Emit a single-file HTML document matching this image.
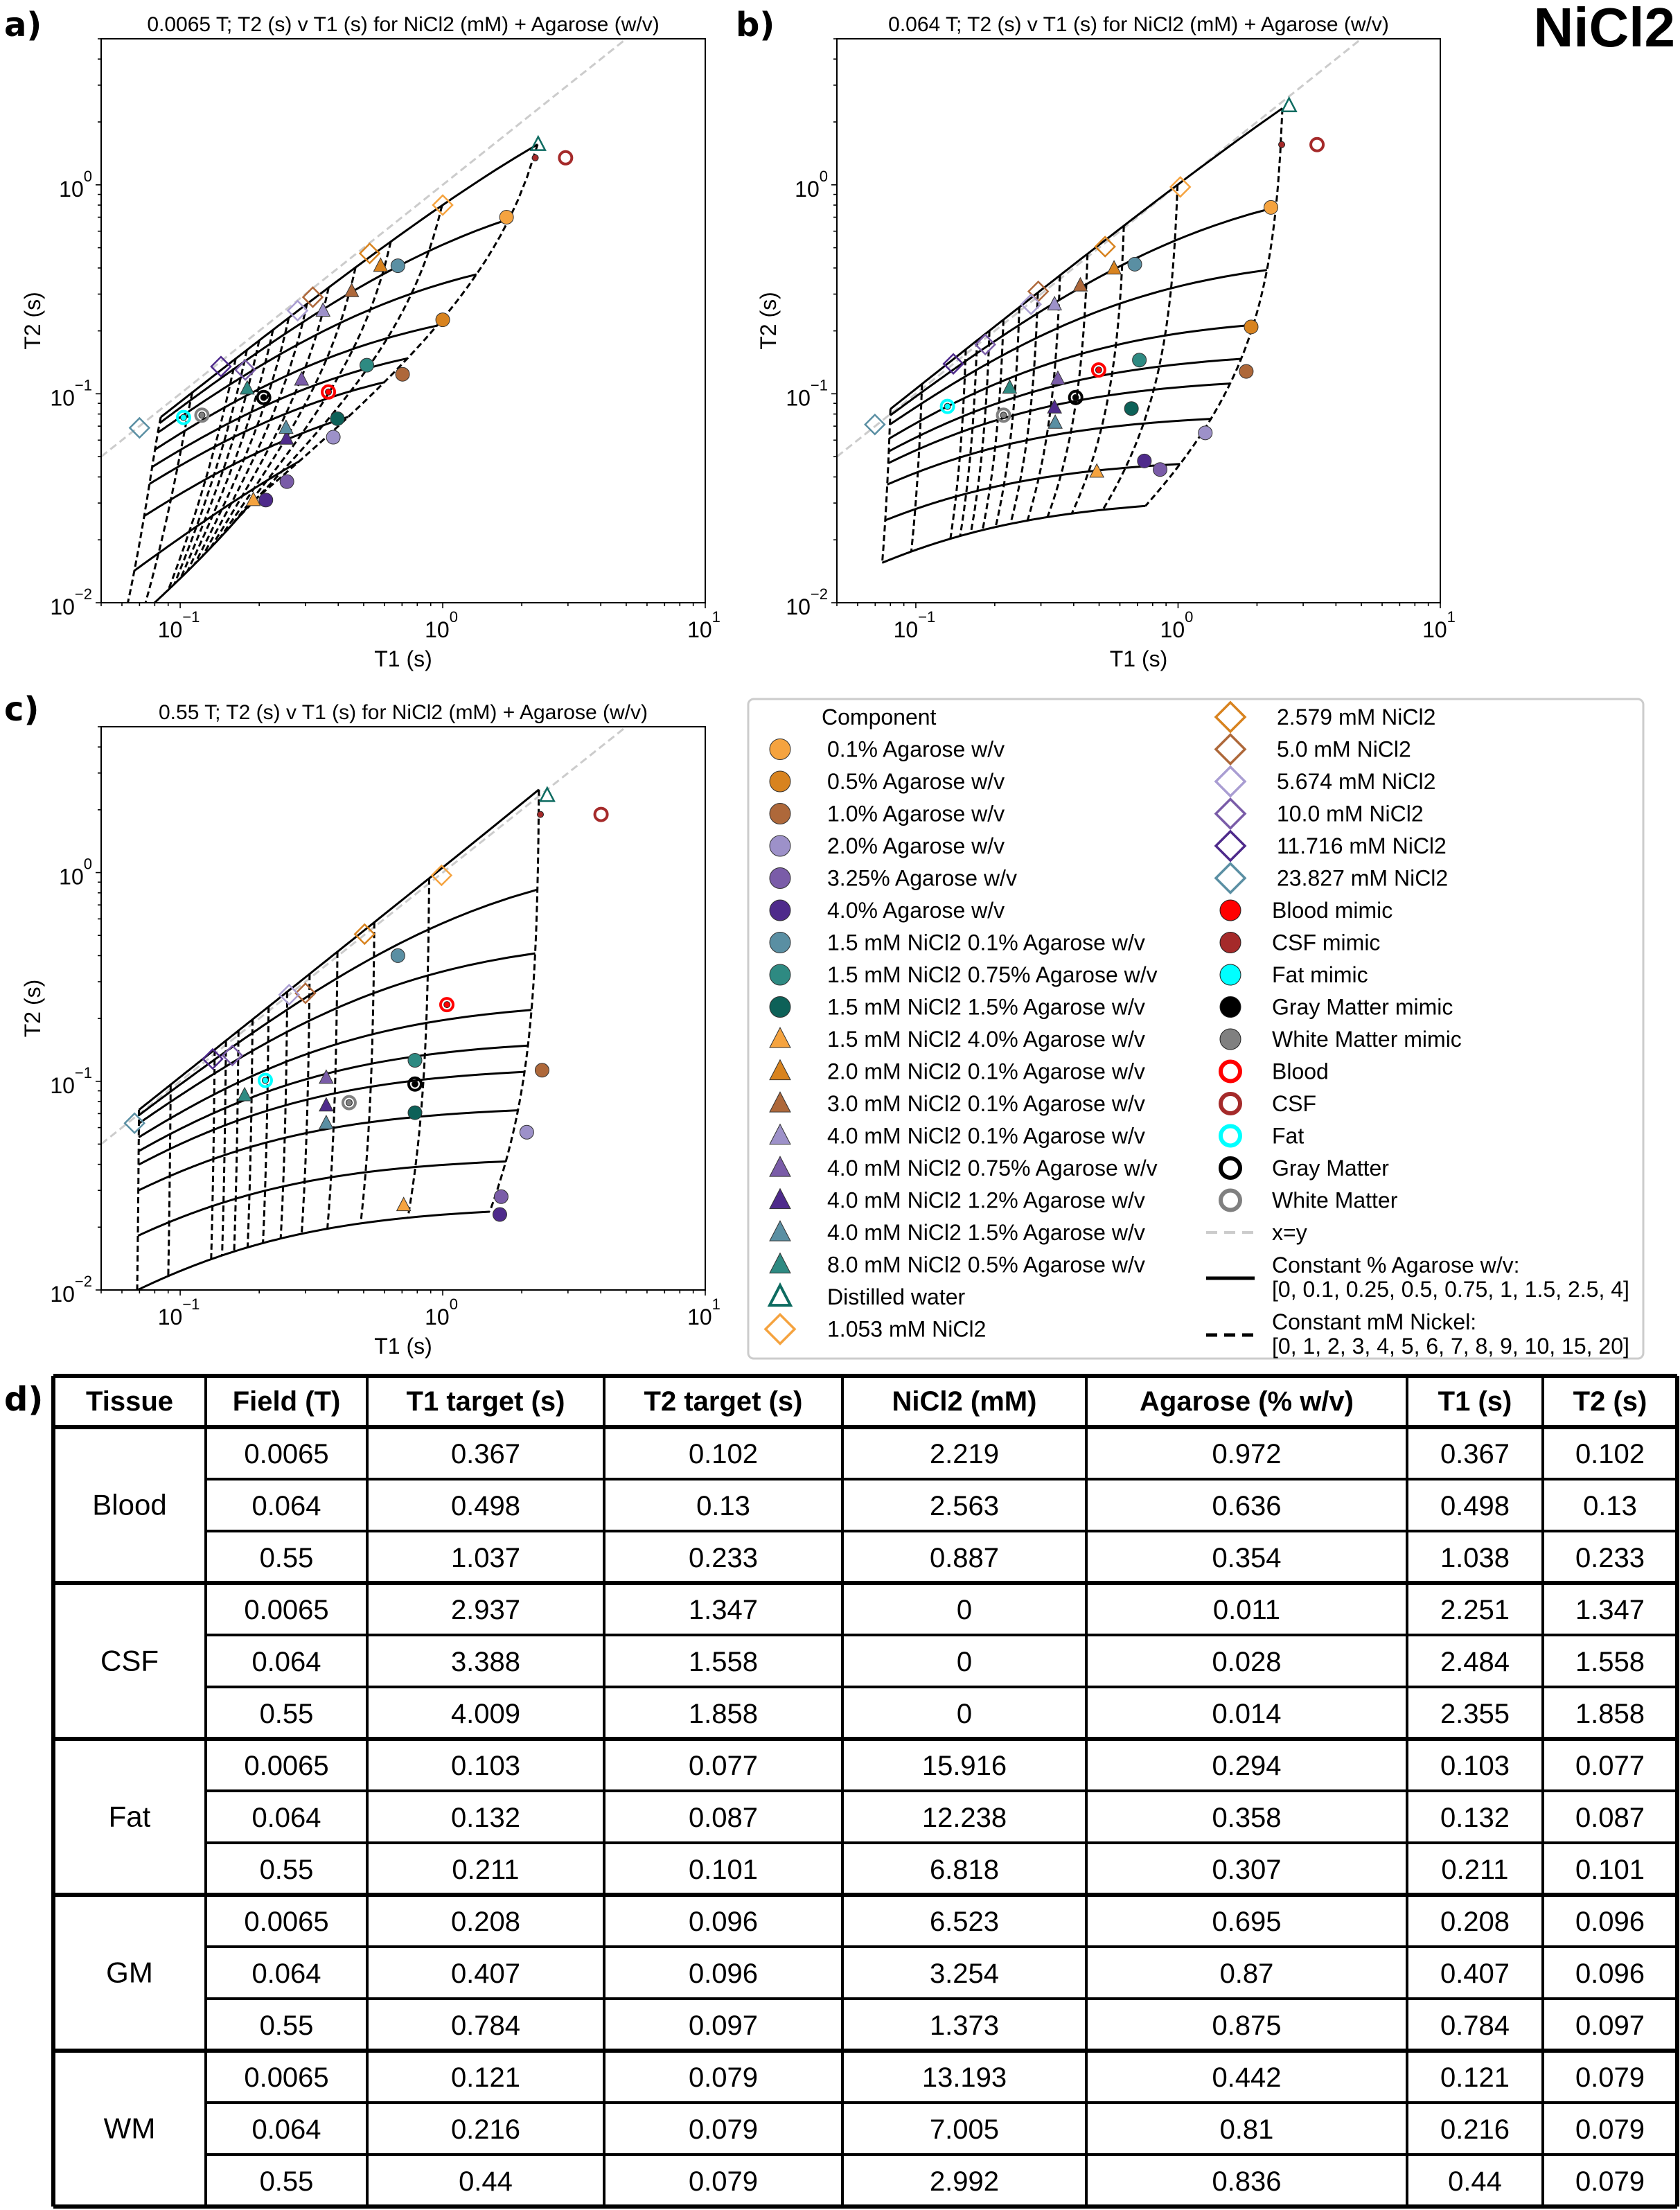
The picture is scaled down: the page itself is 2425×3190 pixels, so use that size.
<!DOCTYPE html>
<html><head><meta charset="utf-8"><title>NiCl2 T2 v T1</title>
<style>
html,body{margin:0;padding:0;background:#fff;}
svg{display:block;font-family:"Liberation Sans",Arial,sans-serif;}
</style></head>
<body>
<svg id="root" xmlns="http://www.w3.org/2000/svg" width="2425" height="3190" viewBox="0 0 2425 3190">
<rect x="0" y="0" width="2425" height="3190" fill="#fff"/>
<text x="2418" y="67" text-anchor="end" font-size="80" font-weight="bold">NiCl2</text>
<text x="6" y="52" font-family="DejaVu Sans, sans-serif" font-size="48" font-weight="bold">a)</text>
<text x="1062" y="52" font-family="DejaVu Sans, sans-serif" font-size="48" font-weight="bold">b)</text>
<text x="6" y="1040" font-family="DejaVu Sans, sans-serif" font-size="48" font-weight="bold">c)</text>
<text x="6" y="2036" font-family="DejaVu Sans, sans-serif" font-size="48" font-weight="bold">d)</text>
<g id="panels"></g>
<g id="legend"></g>
<g id="table"></g>
</svg>
<script>
// ---------- chart data ----------
const panelTitles = ["0.0065 T; T2 (s) v T1 (s) for NiCl2 (mM) + Agarose (w/v)",
                     "0.064 T; T2 (s) v T1 (s) for NiCl2 (mM) + Agarose (w/v)",
                     "0.55 T; T2 (s) v T1 (s) for NiCl2 (mM) + Agarose (w/v)"];
const agaroseLevels = [0, 0.1, 0.25, 0.5, 0.75, 1, 1.5, 2.5, 4];
const nickelLevels = [0, 1, 2, 3, 4, 5, 6, 7, 8, 9, 10, 15, 20];
// relaxation model coefficients [R1w, r1Ni, r1Ag, R2w, r2Ni, r2Ag, q2Ag, kNiAg]
const modelA = [0.435, 0.571, 1.236, 0.64, 0.615, 8.17, 0, 0.295];
const modelB = [0.40, 0.605, 0.233, 0.43, 0.57, 8.5, 0, 0.058];
const modelC = [0.43, 0.696, 0.058, 0.40, 0.665, 8.0, 0.61, 0.14];
const xTickValues = [0.1, 1, 10];
const xTickExps = ["\u22121", "0", "1"];
const yTickValues = [0.01, 0.1, 1];
const yTickExps = ["\u22122", "\u22121", "0"];
const componentKeys = ["ag01","ag05","ag10","ag20","ag325","ag40","n15a01","n15a075","n15a15","t15a40","t20a01","t30a01","t40a01","t40a075","t40a12","t40a15","t80a05","water","d1053","d2579","d50","d5674","d100","d11716","d23827","mBlood","mCSF","mFat","mGM","mWM","Blood","CSF","Fat","GM","WM"];
const t1A = [1.75,1.0,0.703,0.383,0.255,0.212,0.675,0.514,0.397,0.19,0.58,0.45,0.35,0.29,0.254,0.253,0.18,2.31,1.0,0.527,0.32,0.28,0.177,0.143,0.070,0.367,2.251,0.103,0.208,0.121,0.367,2.937,0.103,0.208,0.121];
const t2A = [0.70,0.226,0.124,0.062,0.038,0.031,0.41,0.137,0.076,0.031,0.41,0.31,0.25,0.117,0.061,0.0687,0.106,1.56,0.80,0.47,0.29,0.25,0.13,0.135,0.0687,0.102,1.347,0.077,0.096,0.079,0.102,1.347,0.077,0.096,0.079];
const t1B = [2.26,1.90,1.82,1.27,0.854,0.744,0.684,0.712,0.664,0.49,0.57,0.424,0.338,0.348,0.338,0.34,0.228,2.65,1.02,0.527,0.293,0.275,0.184,0.139,0.0698,0.498,2.484,0.132,0.407,0.216,0.498,3.388,0.132,0.407,0.216];
const t2B = [0.78,0.209,0.128,0.065,0.0434,0.0477,0.417,0.145,0.085,0.0424,0.398,0.33,0.268,0.118,0.086,0.0727,0.107,2.39,0.977,0.506,0.309,0.268,0.172,0.139,0.0713,0.13,1.558,0.087,0.096,0.079,0.13,1.558,0.087,0.096,0.079];
const t1C = [null,null,2.39,2.09,1.67,1.65,0.675,0.784,0.784,0.71,null,null,null,0.36,0.36,0.36,0.176,2.5,0.99,0.504,0.30,0.26,0.158,0.133,0.067,1.038,2.355,0.211,0.784,0.44,1.037,4.009,0.211,0.784,0.44];
const t2C = [null,null,0.113,0.057,0.028,0.023,0.40,0.126,0.0707,0.0255,null,null,null,0.104,0.0766,0.063,0.0857,2.34,0.97,0.507,0.264,0.26,0.133,0.128,0.063,0.233,1.90,0.101,0.097,0.079,0.233,1.90,0.101,0.097,0.079];

// ---------- styles (not data) ----------
const STY = {
 ag01:{s:"c",c:"#f5a33f",l:"0.1% Agarose w/v"}, ag05:{s:"c",c:"#d8831f",l:"0.5% Agarose w/v"},
 ag10:{s:"c",c:"#ae683a",l:"1.0% Agarose w/v"}, ag20:{s:"c",c:"#9d91c9",l:"2.0% Agarose w/v"},
 ag325:{s:"c",c:"#7a5ca8",l:"3.25% Agarose w/v"}, ag40:{s:"c",c:"#4e2a8b",l:"4.0% Agarose w/v"},
 n15a01:{s:"c",c:"#5a8fa3",l:"1.5 mM NiCl2 0.1% Agarose w/v"}, n15a075:{s:"c",c:"#2e8a82",l:"1.5 mM NiCl2 0.75% Agarose w/v"},
 n15a15:{s:"c",c:"#0d6158",l:"1.5 mM NiCl2 1.5% Agarose w/v"},
 t15a40:{s:"t",c:"#f5a33f",l:"1.5 mM NiCl2 4.0% Agarose w/v"}, t20a01:{s:"t",c:"#d8831f",l:"2.0 mM NiCl2 0.1% Agarose w/v"},
 t30a01:{s:"t",c:"#ae683a",l:"3.0 mM NiCl2 0.1% Agarose w/v"}, t40a01:{s:"t",c:"#9d91c9",l:"4.0 mM NiCl2 0.1% Agarose w/v"},
 t40a075:{s:"t",c:"#7a5ca8",l:"4.0 mM NiCl2 0.75% Agarose w/v"}, t40a12:{s:"t",c:"#4e2a8b",l:"4.0 mM NiCl2 1.2% Agarose w/v"},
 t40a15:{s:"t",c:"#5a8fa3",l:"4.0 mM NiCl2 1.5% Agarose w/v"}, t80a05:{s:"t",c:"#2e8a82",l:"8.0 mM NiCl2 0.5% Agarose w/v"},
 water:{s:"to",c:"#0d6b60",l:"Distilled water"},
 d1053:{s:"d",c:"#f5a33f",l:"1.053 mM NiCl2"}, d2579:{s:"d",c:"#d8831f",l:"2.579 mM NiCl2"},
 d50:{s:"d",c:"#ae683a",l:"5.0 mM NiCl2"}, d5674:{s:"d",c:"#a99dd2",l:"5.674 mM NiCl2"},
 d100:{s:"d",c:"#7a5ca8",l:"10.0 mM NiCl2"}, d11716:{s:"d",c:"#4e2a8b",l:"11.716 mM NiCl2"},
 d23827:{s:"d",c:"#5a8fa3",l:"23.827 mM NiCl2"},
 mBlood:{s:"m",c:"#ff0000",l:"Blood mimic"}, mCSF:{s:"m",c:"#a52a2a",l:"CSF mimic"},
 mFat:{s:"m",c:"#00ffff",l:"Fat mimic"}, mGM:{s:"m",c:"#000000",l:"Gray Matter mimic"},
 mWM:{s:"m",c:"#808080",l:"White Matter mimic"},
 Blood:{s:"r",c:"#ff0000",l:"Blood"}, CSF:{s:"r",c:"#a52a2a",l:"CSF"}, Fat:{s:"r",c:"#00ffff",l:"Fat"},
 GM:{s:"r",c:"#000000",l:"Gray Matter"}, WM:{s:"r",c:"#808080",l:"White Matter"}
};
const NS = "http://www.w3.org/2000/svg";
function mk(tag, attrs, parent){ const e=document.createElementNS(NS,tag); for(const k in attrs) e.setAttribute(k,attrs[k]); if(parent) parent.appendChild(e); return e; }

function drawMarker(g, key, x, y, big){
  const st = STY[key]; const k = big ? 1.5 : 1; let e;
  if(st.s==="c"){ e=mk("circle",{cx:x,cy:y,r:10*k,fill:st.c,stroke:"#333","stroke-width":1},g); }
  else if(st.s==="t"||st.s==="to"){
    const w=10*k, h=18*k;
    const pts=`${x},${y-h*0.62} ${x+w},${y+h*0.45} ${x-w},${y+h*0.45}`;
    e = st.s==="t" ? mk("polygon",{points:pts,fill:st.c,stroke:"#333","stroke-width":1},g)
                   : mk("polygon",{points:pts,fill:"none",stroke:st.c,"stroke-width":big?4:2.5},g);
  }
  else if(st.s==="d"){ const h=14*k; e=mk("polygon",{points:`${x},${y-h} ${x+h},${y} ${x},${y+h} ${x-h},${y}`,fill:"none",stroke:st.c,"stroke-width":big?3.5:2.5},g); }
  else if(st.s==="m"){ e=mk("circle",{cx:x,cy:y,r:big?15:4.5,fill:st.c,stroke:"#222","stroke-width":1},g); }
  else { e=mk("circle",{cx:x,cy:y,r:big?14:9,fill:"none",stroke:st.c,"stroke-width":big?6:4},g); }
  
  
  return e;
}

function drawPanel(idx, box, model, t1s, t2s){
  const root=document.getElementById("panels");
  const g=mk("g",{},root);
  
  
  const L=box[0], T=box[1], R=box[2], B=box[3];
  const lx0=Math.log10(0.05), lx1=1, ly0=-2, ly1=Math.log10(5);
  const X=v=>L+(Math.log10(v)-lx0)/(lx1-lx0)*(R-L);
  const Y=v=>B-(Math.log10(v)-ly0)/(ly1-ly0)*(B-T);
  const cid="clip"+idx;
  const defs=mk("defs",{},g); const cp=mk("clipPath",{id:cid},defs); mk("rect",{x:L,y:T,width:R-L,height:B-T},cp);
  const title=mk("text",{x:(L+R)/2,y:T-11,"text-anchor":"middle","font-size":30},g);
  title.textContent=panelTitles[idx];
  
  
  const plot=mk("g",{"clip-path":`url(#${cid})`},g);
  const xy=mk("line",{x1:X(0.05),y1:Y(0.05),x2:X(5),y2:Y(5),stroke:"#cccccc","stroke-width":3,"stroke-dasharray":"11 6"},plot);
  
  
  const m=model;
  const R1=(n,a)=>m[0]+m[1]*n+m[2]*a;
  const R2=(n,a)=>m[3]+m[4]*n+m[5]*a+m[6]*a*a+m[7]*n*a*a;
  const nMax=nickelLevels[nickelLevels.length-1], aMax=agaroseLevels[agaroseLevels.length-1];
  agaroseLevels.forEach(a=>{
    let d=""; for(let i=0;i<=120;i++){ const n=nMax*i/120; d+=(i?"L":"M")+X(1/R1(n,a)).toFixed(1)+","+Y(1/R2(n,a)).toFixed(1); }
    const p=mk("path",{d:d,fill:"none",stroke:"#000","stroke-width":3},plot);
    
    
  });
  nickelLevels.forEach(n=>{
    let d=""; for(let i=0;i<=120;i++){ const a=aMax*i/120; d+=(i?"L":"M")+X(1/R1(n,a)).toFixed(1)+","+Y(1/R2(n,a)).toFixed(1); }
    const p=mk("path",{d:d,fill:"none",stroke:"#000","stroke-width":3,"stroke-dasharray":"9 5"},plot);
    
    
  });
  const mg=mk("g",{},g);
  
  
  componentKeys.forEach((k,i)=>{ if(t1s[i]==null) return; drawMarker(mg,k,X(t1s[i]),Y(t2s[i]),false); });
  const fr=mk("rect",{x:L,y:T,width:R-L,height:B-T,fill:"none",stroke:"#000","stroke-width":2},g);
  
  
  const tg=mk("g",{stroke:"#000","stroke-width":1.6},g);
  
  
  [0.05,0.06,0.07,0.08,0.09,0.1,0.2,0.3,0.4,0.5,0.6,0.7,0.8,0.9,1,2,3,4,5,6,7,8,9,10].forEach(v=>{
    const maj=xTickValues.includes(v); mk("line",{x1:X(v),y1:B,x2:X(v),y2:B+(maj?8:5)},tg);
  });
  [0.01,0.02,0.03,0.04,0.05,0.06,0.07,0.08,0.09,0.1,0.2,0.3,0.4,0.5,0.6,0.7,0.8,0.9,1,2,3,4,5].forEach(v=>{
    const maj=yTickValues.includes(v); mk("line",{x1:L,y1:Y(v),x2:L-(maj?8:5),y2:Y(v)},tg);
  });
  xTickValues.forEach((v,i)=>{
    const t=mk("text",{x:X(v)-2,y:B+50,"text-anchor":"middle","font-size":32},g);
    t.textContent="10";
    const s=mk("tspan",{dy:-22,"font-size":22},t); s.textContent=xTickExps[i];
    
    
  });
  yTickValues.forEach((v,i)=>{
    const t=mk("text",{x:L-13,y:Y(v)+17,"text-anchor":"end","font-size":32},g);
    t.textContent="10";
    const s=mk("tspan",{dy:-22,"font-size":22},t); s.textContent=yTickExps[i];
    
    
  });
  const xl=mk("text",{x:(L+R)/2,y:B+92,"text-anchor":"middle","font-size":32},g); xl.textContent="T1 (s)";
  
  
  const yc=(T+B)/2;
  const yl=mk("text",{x:L-88,y:yc,"text-anchor":"middle","font-size":32,transform:`rotate(-90 ${L-88} ${yc})`},g); yl.textContent="T2 (s)";
  
  
}
drawPanel(0,[146,56,1018,870],modelA,t1A,t2A);
drawPanel(1,[1208,56,2079,870],modelB,t1B,t2B);
drawPanel(2,[146,1049,1018,1862],modelC,t1C,t2C);

// ---------- legend ----------
(function(){
  const g=document.getElementById("legend");
  const box=mk("rect",{x:1080,y:1009,width:1292,height:952,rx:8,fill:"#fff",stroke:"#cccccc","stroke-width":3},g);
  
  
  const rowY=k=>1035+46.5*k;
  const hd=mk("text",{x:1186,y:rowY(0)+11,"font-size":32},g); hd.textContent="Component";
  
  
  componentKeys.forEach((k,i)=>{
    const pos = (i===18) ? [0,19] : (i<18 ? [0,i+1] : [1,i-19]);
    const mx = pos[0]===0 ? 1126 : 1776, tx = pos[0]===0 ? 1194 : (STY[k].s==="d"?1843:1836);
    const y=rowY(pos[1]);
    const eg=mk("g",{},g);
    
    
    drawMarker(eg,k,mx,y,true);
    const t=mk("text",{x:tx,y:y+11,"font-size":32},eg); t.textContent=STY[k].l;
  });
  const l1=mk("line",{x1:1741,y1:rowY(16),x2:1811,y2:rowY(16),stroke:"#cccccc","stroke-width":4,"stroke-dasharray":"16 10"},g);
  
  
  const t1=mk("text",{x:1836,y:rowY(16)+11,"font-size":32},g); t1.textContent="x=y";
  const l2=mk("line",{x1:1741,y1:1845,x2:1811,y2:1845,stroke:"#000","stroke-width":5},g);
  
  
  const t2=mk("text",{x:1836,y:1837,"font-size":32},g); t2.textContent="Constant % Agarose w/v:";
  const t3=mk("text",{x:1836,y:1872,"font-size":32},g); t3.textContent="[0, 0.1, 0.25, 0.5, 0.75, 1, 1.5, 2.5, 4]";
  const l3=mk("line",{x1:1741,y1:1927,x2:1811,y2:1927,stroke:"#000","stroke-width":5,"stroke-dasharray":"16 10"},g);
  
  
  const t4=mk("text",{x:1836,y:1919,"font-size":32},g); t4.textContent="Constant mM Nickel:";
  const t5=mk("text",{x:1836,y:1954,"font-size":32},g); t5.textContent="[0, 1, 2, 3, 4, 5, 6, 7, 8, 9, 10, 15, 20]";
})();

// ---------- table ----------
const tableHeaders = ["Tissue","Field (T)","T1 target (s)","T2 target (s)","NiCl2 (mM)","Agarose (% w/v)","T1 (s)","T2 (s)"];
const tissues = ["Blood","CSF","Fat","GM","WM"];
const fieldCol = ["0.0065","0.064","0.55"];
const t1TargetCol = ["0.367","0.498","1.037","2.937","3.388","4.009","0.103","0.132","0.211","0.208","0.407","0.784","0.121","0.216","0.44"];
const t2TargetCol = ["0.102","0.13","0.233","1.347","1.558","1.858","0.077","0.087","0.101","0.096","0.096","0.097","0.079","0.079","0.079"];
const nicl2Col = ["2.219","2.563","0.887","0","0","0","15.916","12.238","6.818","6.523","3.254","1.373","13.193","7.005","2.992"];
const agaroseCol = ["0.972","0.636","0.354","0.011","0.028","0.014","0.294","0.358","0.307","0.695","0.87","0.875","0.442","0.81","0.836"];
const t1Col = ["0.367","0.498","1.038","2.251","2.484","2.355","0.103","0.132","0.211","0.208","0.407","0.784","0.121","0.216","0.44"];
const t2Col = ["0.102","0.13","0.233","1.347","1.558","1.858","0.077","0.087","0.101","0.096","0.096","0.097","0.079","0.079","0.079"];
(function(){
  const g=document.getElementById("table");
  const cols=[77,297,530,872,1216,1568,2031,2227,2421];
  const top=1986, hb=2060, rh=75;
  const cx=i=>(cols[i]+cols[i+1])/2;
  tableHeaders.forEach((h,i)=>{
    const t=mk("text",{x:cx(i),y:hb-24,"text-anchor":"middle","font-size":40,"font-weight":"bold"},g);
    t.textContent=h;
    
    
  });
  const colsData=[t1TargetCol,t2TargetCol,nicl2Col,agaroseCol,t1Col,t2Col];
  for(let r=0;r<15;r++){
    const y0=hb+r*rh;
    const vals=[fieldCol[r%3]].concat(colsData.map(c=>c[r]));
    vals.forEach((v,j)=>{
      const t=mk("text",{x:cx(j+1),y:y0+52,"text-anchor":"middle","font-size":40},g);
      t.textContent=v;
      
      
    });
  }
  tissues.forEach((ts,i)=>{
    const t=mk("text",{x:cx(0),y:hb+i*3*rh+rh*1.5+14,"text-anchor":"middle","font-size":42},g);
    t.textContent=ts;
    
    
  });
  const lg=mk("g",{stroke:"#000"},g);
  
  
  const bottom=hb+15*rh;
  mk("line",{x1:cols[0],y1:top,x2:cols[8],y2:top,"stroke-width":6},lg);
  mk("line",{x1:cols[0],y1:hb,x2:cols[8],y2:hb,"stroke-width":6},lg);
  for(let r=1;r<=15;r++){
    const y=hb+r*rh; const grp=(r%3===0);
    mk("line",{x1:grp?cols[0]:cols[1],y1:y,x2:cols[8],y2:y,"stroke-width":grp?6:4},lg);
  }
  cols.forEach((x,i)=>{ mk("line",{x1:x,y1:top,x2:x,y2:bottom,"stroke-width":(i===0||i===8)?6:4},lg); });
})();
</script>
</body></html>
